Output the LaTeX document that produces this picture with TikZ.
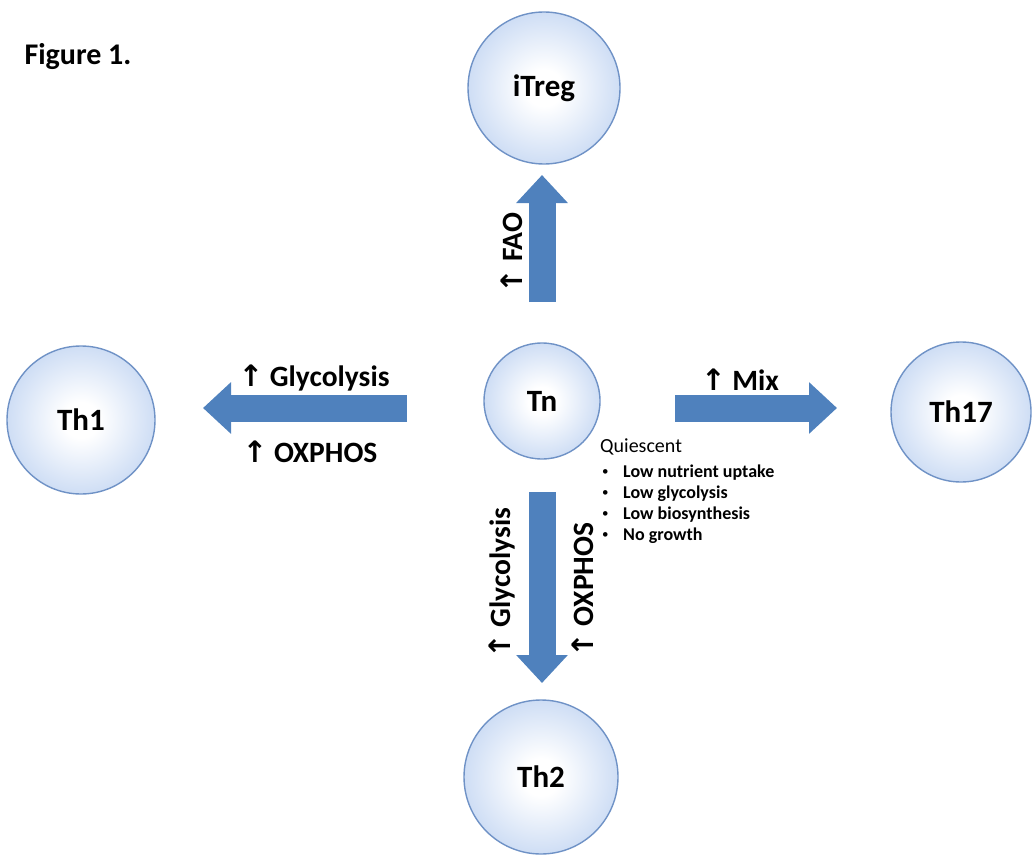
\documentclass[tikz,border=0pt]{standalone}
\usepackage{fontspec}
\setmainfont{Carlito}
\newfontfamily\arrowfont{DejaVu Sans}
\usetikzlibrary{arrows.meta}
\definecolor{arrowblue}{HTML}{4F81BD}
\definecolor{cellblue}{HTML}{9CBBEA}
\definecolor{celledge}{HTML}{6F92C6}
\pgfdeclareradialshading{cellshade}{\pgfpoint{0bp}{0bp}}{color(0bp)=(white); color(6bp)=(white); color(30bp)=(cellblue!62); color(50bp)=(cellblue); color(100bp)=(cellblue)}
\newcommand{\uparr}{{\arrowfont\bfseries ↑}}
\begin{document}
\begin{tikzpicture}[x=1pt,y=-1pt,
  cell/.style={circle, draw=celledge, line width=1.4pt, shade, shading=cellshade, inner sep=0pt,
    font=\bfseries\fontsize{31}{36}\selectfont},
  blockarrow/.style={line width=27pt, draw=arrowblue, -{Triangle[length=28pt 0, width=50pt 0]}},
  lbl/.style={font=\bfseries\fontsize{29.5}{34}\selectfont, inner sep=0pt},
  qhead/.style={anchor=base west, inner sep=0pt, font=\fontsize{20}{24}\selectfont},
  qitem/.style={anchor=base west, inner sep=0pt, font=\bfseries\fontsize{18}{22}\selectfont},
  qbullet/.style={anchor=base west, inner sep=0pt, font=\fontsize{13}{16}\selectfont}]
\useasboundingbox (0,0) rectangle (1032,856);
% cells
\node[cell, minimum size=152pt] (itreg) at (544,88) {iTreg};
\node[cell, minimum size=148pt] (th1) at (81,420) {Th1};
\node[cell, minimum size=116pt] (tn) at (542,401) {Tn};
\node[cell, minimum size=140pt] (th17) at (961,412) {Th17};
\node[cell, minimum size=154pt] (th2) at (541,777) {Th2};
% arrow end points
\coordinate (upS) at (542,302);
\coordinate (upE) at (542,175);
\coordinate (leftS) at (407,408);
\coordinate (leftE) at (203,408);
\coordinate (rightS) at (675,408);
\coordinate (rightE) at (837,408);
\coordinate (downS) at (542,492);
\coordinate (downE) at (542,683);
\draw[blockarrow] (upS) -- (upE);
\draw[blockarrow] (leftS) -- (leftE);
\draw[blockarrow] (rightS) -- (rightE);
\draw[blockarrow] (downS) -- (downE);
% labels
\node[lbl, rotate=90] (faol) at (512,253) {\uparr\ FAO};
\node[lbl] (glyl) at (314,378) {\uparr\ Glycolysis};
\node[lbl] (oxl) at (310,452) {\uparr\ OXPHOS};
\node[lbl] (mixl) at (740,380) {\uparr\ Mix};
\node[lbl, rotate=90] (glyd) at (502,583) {\uparr\ Glycolysis};
\node[lbl, rotate=90] (oxd) at (583,590) {\uparr\ OXPHOS};
\node[font=\bfseries\fontsize{30}{34}\selectfont, inner sep=0pt] (fig) at (78,57) {Figure 1.};
% quiescent list
\node[qhead] (q0) at (600,452) {Quiescent};
\node[qbullet] (b1) at (602,475) {\textbullet};
\node[qbullet] (b2) at (602,496) {\textbullet};
\node[qbullet] (b3) at (602,517) {\textbullet};
\node[qbullet] (b4) at (602,538) {\textbullet};
\node[qitem] (q1) at (623,477) {Low nutrient uptake};
\node[qitem] (q2) at (623,498) {Low glycolysis};
\node[qitem] (q3) at (623,519) {Low biosynthesis};
\node[qitem] (q4) at (623,540) {No growth};
\end{tikzpicture}
\end{document}
